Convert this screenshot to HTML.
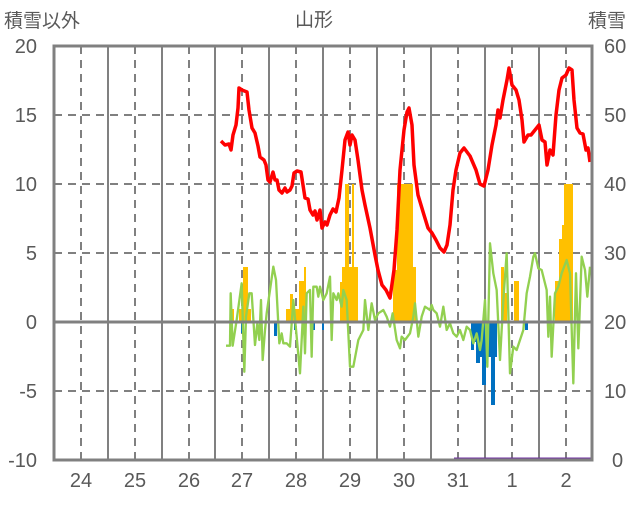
<!DOCTYPE html>
<html><head><meta charset="utf-8"><style>
body{margin:0;background:#fff;}
svg text{font-family:"Liberation Sans","Noto Sans CJK JP",sans-serif;fill:#595959;}
</style></head><body>
<svg width="636" height="501" viewBox="0 0 636 501" xmlns="http://www.w3.org/2000/svg">
<rect width="636" height="501" fill="#fff"/>
<!-- grid -->
<g stroke="#808080" stroke-width="2" stroke-dasharray="8,6">
<line x1="54" y1="115" x2="592" y2="115"/><line x1="54" y1="184" x2="592" y2="184"/>
<line x1="54" y1="253" x2="592" y2="253"/><line x1="54" y1="391" x2="592" y2="391"/>
<line x1="81" y1="46" x2="81" y2="460"/><line x1="135" y1="46" x2="135" y2="460"/>
<line x1="189" y1="46" x2="189" y2="460"/><line x1="242" y1="46" x2="242" y2="460"/>
<line x1="296" y1="46" x2="296" y2="460"/><line x1="350" y1="46" x2="350" y2="460"/>
<line x1="404" y1="46" x2="404" y2="460"/><line x1="458" y1="46" x2="458" y2="460"/>
<line x1="512" y1="46" x2="512" y2="460"/><line x1="566" y1="46" x2="566" y2="460"/>
</g>
<g stroke="#808080" stroke-width="2">
<line x1="108" y1="46" x2="108" y2="460"/><line x1="162" y1="46" x2="162" y2="460"/>
<line x1="215" y1="46" x2="215" y2="460"/><line x1="269" y1="46" x2="269" y2="460"/>
<line x1="323" y1="46" x2="323" y2="460"/><line x1="377" y1="46" x2="377" y2="460"/>
<line x1="431" y1="46" x2="431" y2="460"/><line x1="485" y1="46" x2="485" y2="460"/>
<line x1="539" y1="46" x2="539" y2="460"/>
</g>
<!-- orange bars -->
<g fill="#FFC000">
<rect x="232" y="309" width="2" height="13"/><rect x="239" y="309" width="4" height="13"/><rect x="243" y="267" width="5" height="55"/><rect x="248" y="309" width="3" height="13"/>
<rect x="286" y="309" width="4" height="13"/><rect x="290" y="294" width="3" height="28"/><rect x="293" y="309" width="6" height="13"/><rect x="299" y="281" width="5" height="41"/><rect x="304" y="267" width="2" height="55"/>
<rect x="340" y="282" width="3" height="40"/><rect x="342" y="267" width="3" height="55"/><rect x="345" y="184" width="4" height="138"/><rect x="349" y="267" width="3" height="55"/><rect x="352" y="184" width="2" height="138"/><rect x="354" y="267" width="4" height="55"/>
<rect x="393" y="270" width="4" height="52"/><rect x="397" y="184" width="16" height="138"/><rect x="413" y="267" width="3" height="55"/>
<rect x="501" y="267" width="3" height="55"/><rect x="504" y="293" width="3" height="29"/><rect x="514" y="281" width="5" height="41"/>
<rect x="555" y="281" width="4" height="41"/><rect x="559" y="239" width="3" height="83"/><rect x="562" y="225" width="2" height="97"/><rect x="564" y="184" width="9" height="138"/>
</g>
<!-- blue bars -->
<g fill="#0070C0">
<rect x="241" y="322" width="2" height="11"/><rect x="274" y="322" width="3" height="14"/><rect x="294" y="322" width="2" height="8"/><rect x="313" y="322" width="2" height="8"/><rect x="322" y="322" width="2" height="8"/>
<rect x="471" y="322" width="3" height="28"/><rect x="474" y="322" width="2" height="20"/><rect x="476" y="322" width="4" height="41"/><rect x="480" y="322" width="2" height="35"/><rect x="482" y="322" width="4" height="63"/><rect x="486" y="322" width="2" height="41"/><rect x="488" y="322" width="3" height="35"/><rect x="491" y="322" width="4" height="83"/><rect x="495" y="322" width="2" height="35"/>
<rect x="525" y="322" width="3" height="8"/>
</g>
<!-- green line -->
<g transform="translate(200,240) scale(0.33333)">
<polyline fill="none" stroke="#92D050" stroke-width="7" stroke-linejoin="round" points="78,317 90,317 92,160 98,317 110,240 125,130 133,395 138,230 148,160 155,160 165,315 172,250 178,300 183,180 188,360 195,270 200,220 210,150 220,80 228,120 238,310 245,280 250,310 260,310 270,320 280,180 290,290 300,400 310,200 315,340 320,160 330,150 335,350 340,140 350,140 355,170 360,140 370,180 380,160 390,110 395,300 400,160 410,180 415,160 425,200 430,150 440,180 450,380 460,380 475,300 490,270 495,180 505,270 515,190 525,240 535,220 550,210 560,230 570,260 578,220 590,300 600,325 605,290 615,300 630,280 640,230 645,190 655,290 665,230 675,200 690,210 695,195 700,210 710,220 720,260 730,200 740,270 750,250 760,280 770,290 780,270 790,300 800,260 810,270 820,310 830,280 840,330 845,300 855,180 862,380 870,10 880,100 890,150 900,360 910,180 920,40 930,400 940,320 950,330 960,300 970,270 980,160 990,110 1000,50 1005,40 1015,85 1025,90 1040,150 1045,290 1050,170 1055,350 1065,160 1075,140 1085,100 1100,60 1110,100 1120,430 1128,100 1135,325 1145,50 1155,90 1162,170 1170,80"/>
</g>
<!-- red line -->
<polyline fill="none" stroke="#FF0000" stroke-width="3.5" stroke-linejoin="round" points="221,141 225,145 229,144 231,150 233,135 236,125 238,108 239,88 242,90 247,92 249,110 252,128 255,133 258,146 260,157 264,160 266,165 268,180 270,182 273,172 275,180 277,180 279,190 282,193 285,188 287,192 290,190 292,186 294,173 297,171 301,172 303,185 305,198 308,199 310,210 313,215 315,211 317,220 320,210 322,228 325,222 327,225 330,215 333,209 336,212 339,198 342,170 345,140 348,132 350,145 352,135 355,140 358,160 362,190 365,205 370,228 375,255 378,270 382,285 386,290 390,298 394,270 397,230 400,170 404,130 407,112 409,108 412,125 414,165 418,195 424,215 428,228 432,233 436,240 440,248 444,252 447,245 450,225 453,190 456,170 460,153 464,148 470,156 476,170 480,184 484,186 488,170 492,145 496,125 498,110 500,118 503,100 507,80 509,68 512,85 516,90 519,100 522,120 524,142 528,135 531,135 535,130 539,125 542,140 545,142 547,165 550,150 553,155 556,115 559,90 562,78 566,75 569,68 572,70 574,100 577,128 580,133 583,134 586,150 588,148 590,162"/>
<!-- zero line, purple, frame -->
<line x1="54" y1="322" x2="592" y2="322" stroke="#808080" stroke-width="3"/>
<line x1="454" y1="459" x2="591" y2="459" stroke="#7030A0" stroke-width="3"/>
<rect x="54" y="46" width="538" height="414" fill="none" stroke="#808080" stroke-width="3"/>
<!-- labels -->
<g font-size="20" text-anchor="end">
<text x="37" y="53">20</text><text x="37" y="122">15</text><text x="37" y="191">10</text><text x="37" y="260">5</text><text x="37" y="329">0</text><text x="37" y="398">-5</text><text x="37" y="467">-10</text>
</g>
<g font-size="20" text-anchor="start">
<text x="604" y="53">60</text><text x="604" y="122">50</text><text x="604" y="191">40</text><text x="604" y="260">30</text><text x="604" y="329">20</text><text x="604" y="398">10</text><text x="612" y="467">0</text>
</g>
<g font-size="20" text-anchor="middle">
<text x="81" y="487">24</text><text x="135" y="487">25</text><text x="189" y="487">26</text><text x="242" y="487">27</text><text x="296" y="487">28</text><text x="350" y="487">29</text><text x="404" y="487">30</text><text x="458" y="487">31</text><text x="512" y="487">1</text><text x="566" y="487">2</text>
</g>
<text x="4" y="27" font-size="19">積雪以外</text>
<text x="314" y="26" font-size="19" text-anchor="middle">山形</text>
<text x="588" y="27" font-size="19">積雪</text>
</svg>
</body></html>
